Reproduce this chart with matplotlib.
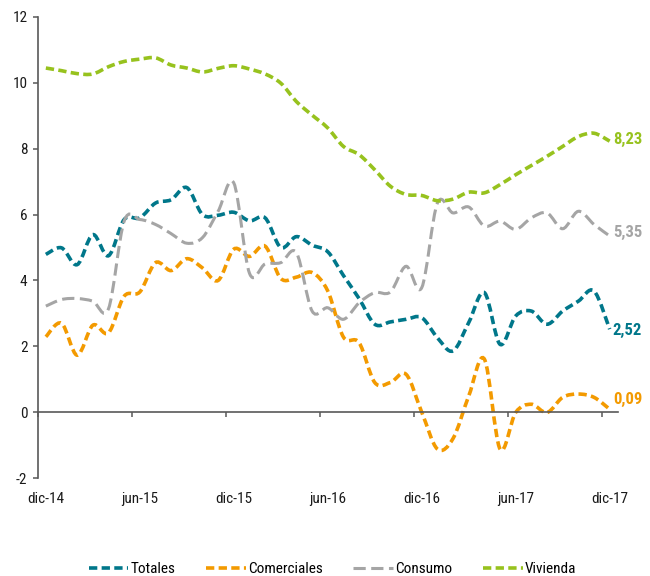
import matplotlib
matplotlib.use("Agg")
import matplotlib.pyplot as plt
from matplotlib.path import Path
from matplotlib.patches import PathPatch
from matplotlib.lines import Line2D
import numpy as np

# etiquetas del eje x (cada 6 meses, dic-14 .. dic-17)
meses = ["dic-14", "jun-15", "dic-15", "jun-16", "dic-16", "jun-17", "dic-17"]

# tasas de variación mensuales (37 meses)
totales = [4.79, 4.99, 4.48, 5.39, 4.75, 5.85, 5.90, 6.35, 6.45, 6.82,
           6.00, 5.98, 6.07, 5.81, 5.90, 5.00, 5.33, 5.07, 4.87, 4.15,
           3.45, 2.67, 2.74, 2.82, 2.87, 2.26, 1.86, 2.72, 3.63, 2.06,
           2.92, 3.07, 2.67, 3.07, 3.37, 3.68, 2.52]
comerciales = [2.29, 2.70, 1.73, 2.64, 2.41, 3.52, 3.65, 4.54, 4.30, 4.66,
               4.38, 4.00, 4.95, 4.73, 5.04, 4.06, 4.10, 4.24, 3.68, 2.28,
               2.11, 0.90, 0.90, 1.15, 0.00, -1.12, -0.80, 0.49, 1.61, -1.12,
               -0.01, 0.24, -0.01, 0.45, 0.55, 0.45, 0.09]
consumo = [3.22, 3.42, 3.45, 3.37, 3.14, 5.80, 5.85, 5.70, 5.42, 5.13,
           5.30, 6.10, 6.96, 4.22, 4.50, 4.54, 4.84, 3.07, 3.17, 2.82,
           3.32, 3.63, 3.65, 4.43, 3.78, 6.35, 6.05, 6.23, 5.65, 5.80,
           5.55, 5.90, 6.05, 5.57, 6.10, 5.70, 5.35]
vivienda = [10.45, 10.37, 10.28, 10.27, 10.49, 10.65, 10.72, 10.76, 10.54, 10.45,
            10.33, 10.44, 10.52, 10.42, 10.27, 9.99, 9.43, 9.02, 8.63, 8.07,
            7.82, 7.36, 6.86, 6.61, 6.58, 6.42, 6.47, 6.68, 6.66, 6.91,
            7.21, 7.49, 7.77, 8.07, 8.37, 8.47, 8.23]

plt.rcParams['font.family'] = ['Roboto Condensed', 'DejaVu Sans']
plt.rcParams['font.stretch'] = 'condensed'
plt.rcParams['axes.unicode_minus'] = False


def curva_suave(y):
    # linea suavizada tipo Excel (Bezier entre puntos consecutivos)
    pts = np.column_stack([np.arange(len(y)), y]).astype(float)
    n = len(pts)
    verts = [pts[0]]
    codes = [Path.MOVETO]
    for k in range(n - 1):
        p0 = pts[k - 1] if k > 0 else pts[k]
        p1, p2 = pts[k], pts[k + 1]
        p3 = pts[k + 2] if k + 2 < n else pts[k + 1]
        verts += [p1 + (p2 - p0) / 6, p2 - (p3 - p1) / 6, p2]
        codes += [Path.CURVE4] * 3
    return Path(verts, codes)


series = [
    ("Totales", totales, "#00778A", 2.6, (2.3, 1.2), -0.03),
    ("Comerciales", comerciales, "#F39A00", 2.6, (2.3, 1.2), 0.30),
    ("Consumo", consumo, "#A5A5A5", 2.2, (4.0, 1.8), 0.10),
    ("Vivienda", vivienda, "#97C21E", 2.6, (2.3, 1.2), 0.04),
]

fig = plt.figure(figsize=(6.5, 5.76), dpi=100)
ax = fig.add_axes([0.0585, 0.1701, 0.8915, 0.8004])

handles = []
for nombre, y, color, lw, dash, dy in series:
    ax.add_patch(PathPatch(curva_suave(y), fill=False, edgecolor=color,
                           linewidth=lw, linestyle=(0, dash)))
    ultimo = y[-1]
    ax.text(len(y) - 1 + 0.2, ultimo + dy, f"{ultimo:.2f}".replace(".", ","),
            color=color, fontsize=12, fontweight="bold", va="center", ha="left")
    handles.append(Line2D([], [], color=color, linewidth=lw, linestyle=(0, dash)))

ax.set_xlim(-0.5, 36.5)
ax.set_ylim(-2, 12)
ax.set_yticks(range(-2, 13, 2))
ax.set_xticks(np.arange(-0.5, 36, 6))
ax.set_xticklabels([])

for s in ["top", "right"]:
    ax.spines[s].set_visible(False)
ax.spines["bottom"].set_position(("data", 0))
for s in ["left", "bottom"]:
    ax.spines[s].set_color("#595959")
    ax.spines[s].set_linewidth(1.2)
ax.tick_params(axis="both", direction="out", length=3.6, width=1.1,
               color="#595959", labelsize=11, labelcolor="#1a1a1a", pad=4)

for k, lab in enumerate(meses):
    ax.text(k * 6, -0.046, lab, transform=ax.get_xaxis_transform(),
            ha="center", va="center", fontsize=11, color="#1a1a1a")

fig.legend(handles, [s[0] for s in series], loc="center", ncol=4,
           bbox_to_anchor=(0.5115, 0.012), frameon=False, fontsize=11,
           handlelength=2.6, handletextpad=0.15, columnspacing=2.0)

fig.savefig("out.png", dpi=100)
